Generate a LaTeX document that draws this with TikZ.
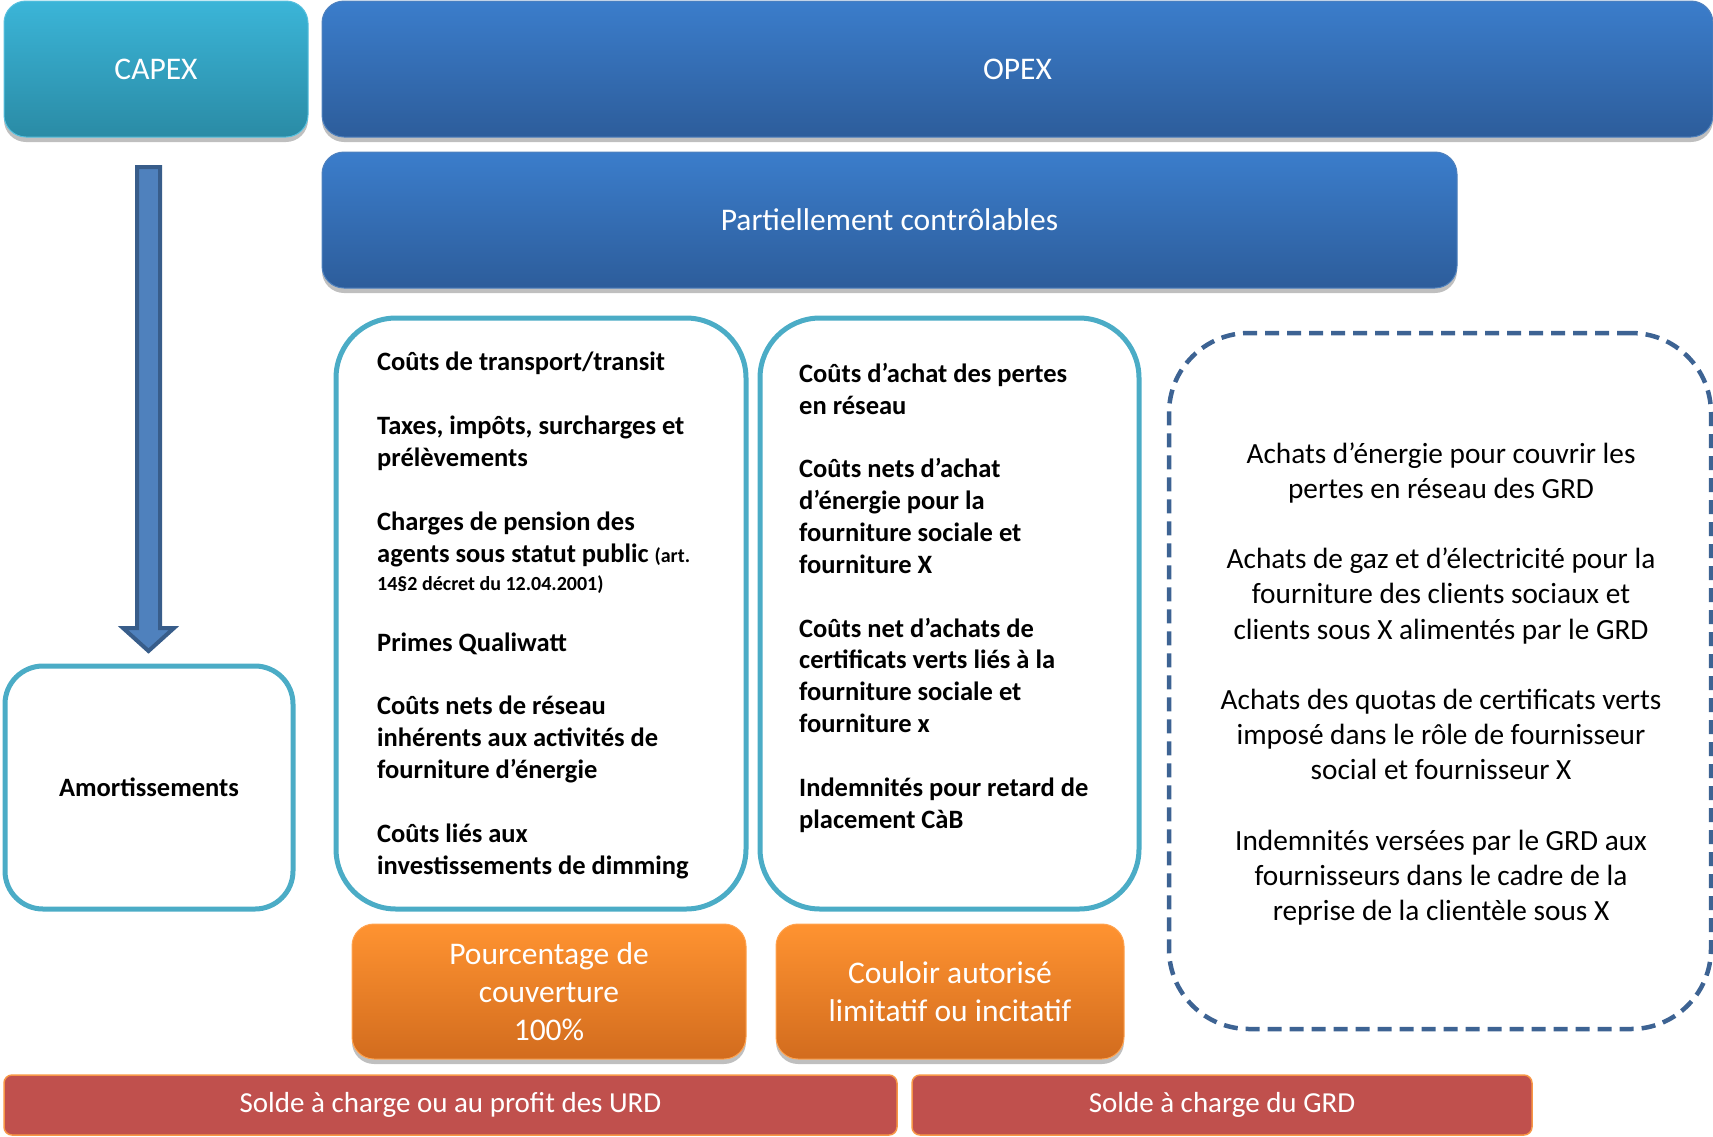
\documentclass[tikz,border=0pt]{standalone}
\usepackage{fontspec}
\setmainfont{Carlito}
\usetikzlibrary{shadows,calc}
\definecolor{capextop}{HTML}{3BB5D8}
\definecolor{capexbot}{HTML}{2A8BA5}
\definecolor{opextop}{HTML}{3B7DCB}
\definecolor{opexbot}{HTML}{2D5D9B}
\definecolor{opexline}{HTML}{4F81BD}
\definecolor{tealline}{HTML}{4BACC6}
\definecolor{dashblue}{HTML}{3D6393}
\definecolor{orgtop}{HTML}{FF9331}
\definecolor{orgbot}{HTML}{D26C1E}
\definecolor{redfill}{HTML}{C0504D}
\definecolor{redline}{HTML}{F79646}
\definecolor{arrfill}{HTML}{4F81BD}
\definecolor{arrline}{HTML}{385D8A}
\tikzset{
  softshadow/.style={drop shadow={shadow xshift=0pt,shadow yshift=-5pt,opacity=0.25,fill=black}},
  hdr/.style={rectangle, rounded corners=22pt, line width=1pt, text=white, inner sep=0pt,
    font=\fontsize{31.5}{38}\selectfont, softshadow},
  cbox/.style={rectangle, draw=tealline, line width=5pt, fill=white, rounded corners=60pt, inner sep=0pt},
  coltext/.style={anchor=base west, inner sep=0pt, align=left, font=\fontsize{26.5}{31.8}\selectfont\bfseries},
  orgbox/.style={rectangle, rounded corners=22pt, top color=orgtop, bottom color=orgbot, draw=orgtop!85!white,
    line width=1pt, text=white, inner sep=0pt, align=center, font=\fontsize{31.5}{38}\selectfont, softshadow},
  redbox/.style={rectangle, rounded corners=8pt, fill=redfill, draw=redline, line width=1.5pt, text=white,
    inner sep=0pt, font=\fontsize{29}{35}\selectfont},
  dashbox/.style={rectangle, draw=dashblue, line width=4.5pt, dash pattern=on 14pt off 8pt, rounded corners=80pt,
    inner sep=0pt, align=center, font=\fontsize{29.3}{35.2}\selectfont}
}
\begin{document}
\begin{tikzpicture}[x=1pt,y=-1pt]
\useasboundingbox (0,0) rectangle (1713,1136);
% headers
\node[hdr, top color=capextop, bottom color=capexbot, draw=capextop!85!white,
  minimum width=304pt, minimum height=136pt] (capex) at (156,69) {CAPEX};
\node[hdr, top color=opextop, bottom color=opexbot, draw=opexline,
  minimum width=1391pt, minimum height=136pt] (opex) at (1017.5,69) {OPEX};
\node[hdr, top color=opextop, bottom color=opexbot, draw=opexline,
  minimum width=1135pt, minimum height=136pt] (partiel) at (889.5,220) {Partiellement contrôlables};
% arrow
\draw[fill=arrfill, draw=arrline, line width=4pt, line join=miter]
  (137,167) -- (160,167) -- (160,628) -- (174,628) -- (148.5,651) -- (123,628) -- (137,628) -- cycle;
% amortissements
\node[cbox, rounded corners=38pt, minimum width=288pt, minimum height=243pt,
  font=\fontsize{26.5}{31.8}\selectfont\bfseries] (amort) at (149,787.5) {Amortissements};
% columns
\node[cbox, minimum width=410pt, minimum height=591pt] (col1) at (541,613.5) {};
\node[cbox, minimum width=379pt, minimum height=591pt] (col2) at (949.5,613.5) {};
\node[coltext] (t1) at (377,874) {Coûts de transport/transit\\[32pt]
Taxes, impôts, surcharges et\\prélèvements\\[32pt]
Charges de pension des\\agents sous statut public {\fontsize{20}{24}\selectfont(art.}\\[-3.8pt]
{\fontsize{20}{24}\selectfont 14§2 décret du 12.04.2001)}\\[29.2pt]
Primes Qualiwatt\\[32pt]
Coûts nets de réseau\\inhérents aux activités de\\fourniture d’énergie\\[32pt]
Coûts liés aux\\investissements de dimming};
\node[coltext] (t2) at (799,828) {Coûts d’achat des pertes\\en réseau\\[32pt]
Coûts nets d’achat\\d’énergie pour la\\fourniture sociale et\\fourniture X\\[32pt]
Coûts net d’achats de\\certificats verts liés à la\\fourniture sociale et\\fourniture x\\[32pt]
Indemnités pour retard de\\placement CàB};
% dashed box
\node[dashbox, minimum width=542pt, minimum height=696pt] (achats) at (1440,681) {};
\node[align=center, inner sep=0pt, font=\fontsize{29.3}{35.2}\selectfont] (achtxt) at (1441,684) {Achats d’énergie pour couvrir les\\pertes en réseau des GRD\\[35.2pt]
Achats de gaz et d’électricité pour la\\fourniture des clients sociaux et\\clients sous X alimentés par le GRD\\[35.2pt]
Achats des quotas de certificats verts\\imposé dans le rôle de fournisseur\\social et fournisseur X\\[35.2pt]
Indemnités versées par le GRD aux\\fournisseurs dans le cadre de la\\reprise de la clientèle sous X};
% orange
\node[orgbox, minimum width=394pt, minimum height=135pt] (pct) at (549,991.5) {Pourcentage de\\couverture\\100\%};
\node[orgbox, minimum width=348pt, minimum height=135pt] (couloir) at (950,991.5) {Couloir autorisé\\limitatif ou incitatif};
% red
\node[redbox, minimum width=893pt, minimum height=60pt] (urd) at (450.5,1105) {Solde à charge ou au profit des URD};
\node[redbox, minimum width=620pt, minimum height=60pt] (grd) at (1222,1105) {Solde à charge du GRD};
\end{tikzpicture}
\end{document}
